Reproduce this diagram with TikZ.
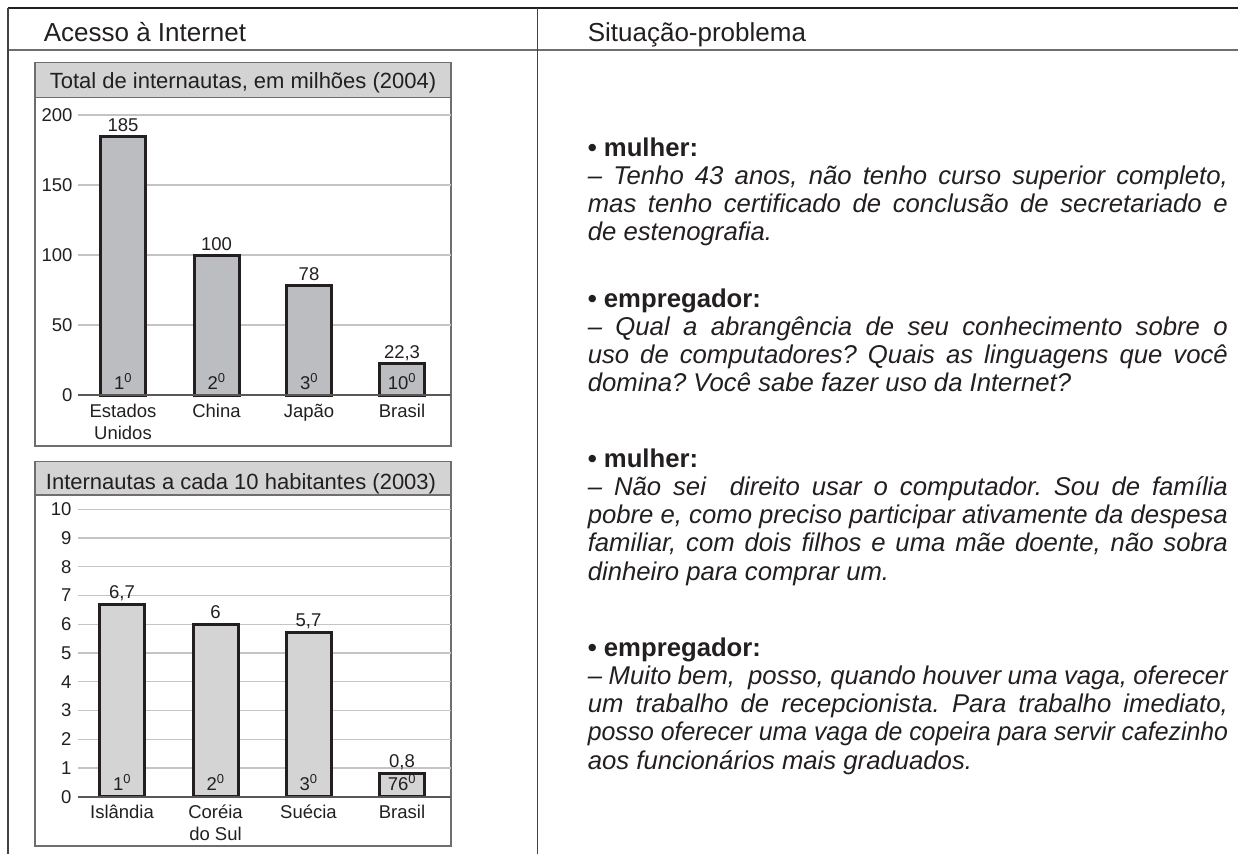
\documentclass[tikz,border=0pt]{standalone}
\usepackage{fontspec}
\usepackage{graphicx}
\setmainfont{Liberation Sans}
\usetikzlibrary{positioning}
\frenchspacing

\definecolor{ink}{HTML}{231F20}
\definecolor{barfillA}{HTML}{BCBDC1}
\definecolor{barfillB}{HTML}{D4D4D5}
\definecolor{titlefill}{HTML}{D3D3D4}
\definecolor{gridcol}{HTML}{C4C4C4}
\definecolor{framecol}{HTML}{6E6E6E}

\tikzset{
	headtext/.style={anchor=base west, inner sep=0pt, text=ink, font=\fontsize{26}{30}\selectfont},
	titletext/.style={anchor=base, inner sep=0pt, text=ink, font=\fontsize{22}{26}\selectfont},
	ticktext/.style={anchor=east, inner sep=0pt, text=ink, font=\fontsize{18.5}{22}\selectfont},
	smalltext/.style={anchor=base, inner sep=0pt, text=ink, align=center, font=\fontsize{18.5}{22}\selectfont},
	gridline/.style={draw=gridcol, line width=1.3pt},
	axisline/.style={draw=ink!75, line width=1.6pt},
	chartframe/.style={draw=framecol, line width=1.5pt},
	chartbar/.style={draw=ink, line width=3pt},
	speech/.style={anchor=base west, inner sep=0pt, text=ink, text width=640pt, align=justify, font=\fontsize{25.7}{28.3}\selectfont\frenchspacing}
}

\begin{document}
\begin{tikzpicture}[x=1pt, y=-1pt]
	\useasboundingbox (0,0) rectangle (1238,854);
	
	% Table rules
	\draw[ink, line width=2pt] (8,7.5) -- (1238,7.5);
	\draw[ink!65, line width=2.2pt] (8,50) -- (1238,50);
	\draw[ink!85, line width=1.5pt] (8,7.5) -- (8,854);
	\draw[ink!85, line width=1.5pt] (537.5,7.5) -- (537.5,854);
	
	% Column heads
	\node[headtext] (acesso) at (43.6,41.7) {Acesso à Internet};
	\node[headtext] (situacao) at (587.6,41.2) {Situação-problema};
	
	% Chart 1: total de internautas
	\coordinate (A0) at (78,395); % zero of chart 1
	\draw[chartframe, fill=titlefill] (35,62.7) rectangle (451,97.5);
	\node[titletext] (titleA) at (243,88) {Total de internautas, em milhões (2004)};
	\draw[chartframe] (35,97.5) rectangle (451,446);
	\foreach \v in {50,100,150,200} {
		\draw[gridline] (78,{395-1.4*\v}) -- (451,{395-1.4*\v});
		\node[ticktext] (tickA\v) at (72.7,{395-1.4*\v}) {\v};
	}
	\node[ticktext] (tickA0) at (72.7,395) {0};
	% last line of the country name sits on \cy
	\foreach \cx/\v/\lab/\rk/\cy/\cat [count=\i] in {123/185/185/1/439/{Estados\\Unidos}, 216.5/100/100/2/417/China, 309/78/78/3/417/Japão, 402/22.3/{22,3}/10/417/Brasil} {
		\draw[chartbar, fill=barfillA] (\cx-22.5,395) rectangle (\cx+22.5,{395-1.4*\v});
		\node[smalltext] (valA\i) at (\cx,{395-1.4*\v-5}) {\lab};
		\node[smalltext] (rankA\i) at (\cx,389) {\rk\textsuperscript{0}};
		\node[smalltext] (catA\i) at (\cx,\cy) {\cat};
	}
	\draw[axisline] (A0) -- (451,395);
	
	% Chart 2: internautas a cada 10 habitantes
	\coordinate (B0) at (78,796.7); % zero of chart 2
	\draw[chartframe, fill=titlefill] (35,461.7) rectangle (451,495);
	\node[titletext] (titleB) at (241,489.6) {Internautas a cada 10 habitantes (2003)};
	\draw[chartframe] (35,495) rectangle (451,846);
	\foreach \v in {1,...,10} {
		\draw[gridline] (78,{796.7-28.74*\v}) -- (451,{796.7-28.74*\v});
		\node[ticktext] (tickB\v) at (71.7,{796.7-28.74*\v}) {\v};
	}
	\node[ticktext] (tickB0) at (71.7,796.7) {0};
	\foreach \cx/\v/\lab/\rk/\cy/\cat [count=\i] in {122/6.7/{6,7}/1/818/Islândia, 215.5/6/6/2/840/{Coréia\\do Sul}, 308.5/5.7/{5,7}/3/818/Suécia, 402/0.8/{0,8}/76/818/Brasil} {
		\draw[chartbar, fill=barfillB] (\cx-22.5,796.7) rectangle (\cx+22.5,{796.7-28.74*\v});
		\node[smalltext] (valB\i) at (\cx,{796.7-28.74*\v-6}) {\lab};
		\node[smalltext] (rankB\i) at (\cx,790) {\rk\textsuperscript{0}};
		\node[smalltext] (catB\i) at (\cx,\cy) {\cat};
	}
	\draw[axisline] (B0) -- (451,796.7);
	
	% Dialogue
	\node[speech] (fala1) at (587.6,156) {{\bfseries • mulher:}\\
		\itshape – Tenho 43 anos, não tenho curso superior completo,\linebreak
		mas tenho certificado de conclusão de secretariado e\linebreak
		de estenografia.};
	\node[speech] (fala2) at (587.6,307) {{\bfseries • empregador:}\\
		\itshape – Qual a abrangência de seu conhecimento sobre o\linebreak
		uso de computadores? Quais as linguagens que você\linebreak
		domina? Você sabe fazer uso da Internet?};
	\node[speech] (fala3) at (587.6,467) {{\bfseries • mulher:}\\
		\itshape – Não sei\ \ direito usar o computador. Sou de família\linebreak
		pobre e, como preciso participar ativamente da despesa\linebreak
		familiar, com dois filhos e uma mãe doente, não sobra\linebreak
		dinheiro para comprar um.};
	\node[speech] (fala4) at (587.6,656) {{\bfseries • empregador:}\\
		\itshape – Muito bem,\ \ posso, quando houver uma vaga, oferecer\linebreak
		um trabalho de recepcionista. Para trabalho imediato,\linebreak
		\scalebox{0.966}[1]{posso oferecer uma vaga de copeira para servir cafezinho}\linebreak
		aos funcionários mais graduados.};
\end{tikzpicture}
\end{document}
